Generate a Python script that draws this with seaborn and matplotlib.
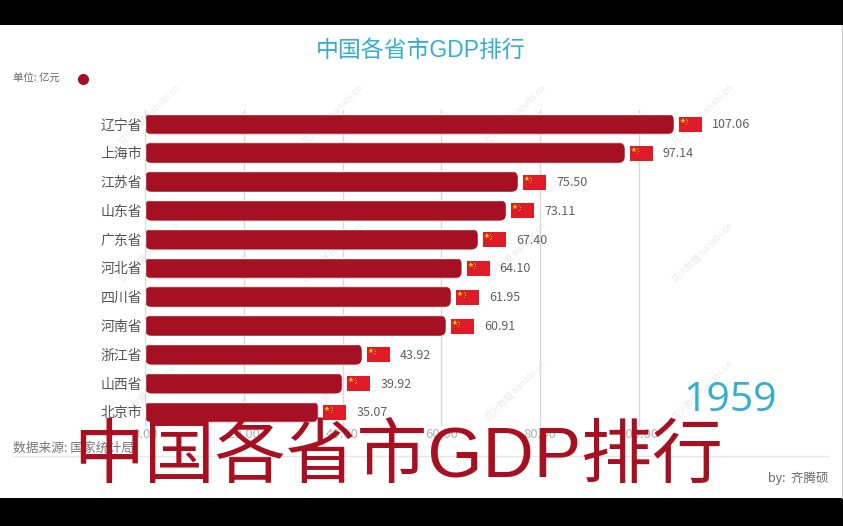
import matplotlib
matplotlib.use("Agg")
import matplotlib.pyplot as plt
from matplotlib.patches import FancyBboxPatch, Rectangle
import seaborn as sns

# DATA
provinces = ["辽宁省", "上海市", "江苏省", "山东省", "广东省", "河北省",
             "四川省", "河南省", "浙江省", "山西省", "北京市"]
gdp = [107.06, 97.14, 75.50, 73.11, 67.40, 64.10, 61.95, 60.91, 43.92, 39.92, 35.07]
x_ticks = [0, 20, 40, 60, 80, 100]
x_tick_labels = ["0.00", "20.00", "40.00", "60.00", "80.00", "100.00"]
title = "中国各省市GDP排行"
year = "1959"

W, H = 843, 526
RED = "#A51122"
BLUE = "#35AECF"
LATIN_CJK = ["Liberation Sans", "Noto Sans CJK SC"]

sns.set_theme(style="white")
plt.rcParams["font.family"] = ["Noto Sans CJK SC", "DejaVu Sans"]

fig = plt.figure(figsize=(W / 100, H / 100), dpi=100, facecolor="white")

# fond en coordonnees pixel : bandes noires, cadre, filigrane
bg = fig.add_axes([0, 0, 1, 1], zorder=0)
bg.set_xlim(0, W)
bg.set_ylim(H, 0)
bg.axis("off")
bg.add_patch(Rectangle((0, 0), W, 25, color="black", lw=0))
bg.add_patch(Rectangle((0, 498), W, 28, color="black", lw=0))
bg.plot([842, 842], [25, 498], color="#c8c8c8", lw=1)
bg.plot([13, 828], [456, 456], color="#e6e6e6", lw=1)
for tip_y in [87, 225, 363]:
    for tip_x in [177, 360, 543, 730]:
        bg.text(tip_x - 27, tip_y + 28, "花火数据 hanabi.cn", rotation=45, fontsize=6.5,
                color="#e9e9e9", ha="center", va="center", rotation_mode="anchor")

# barres
ax = fig.add_axes([145 / W, 1 - 426.4 / H, 655 / W, 316.8 / H], zorder=1)
ax.patch.set_alpha(0)
sns.barplot(x=gdp, y=provinces, orient="y", color=RED, saturation=1, width=0.72, ax=ax)
ax.set_xlim(0, 655 / 4.94)
ax.set_ylim(10.5, -0.5)
ax.set_xticks(x_ticks, x_tick_labels, color="#b0b0b0", fontsize=9.5)
ax.tick_params(axis="x", length=0, pad=1)
ax.tick_params(axis="y", length=0, pad=2, labelsize=10, labelcolor="#555555")
ax.grid(axis="x", color="#d9d9d9", lw=1)
ax.set_axisbelow(True)
sns.despine(ax=ax, left=True, bottom=True)

# calque du dessus, meme repere pixel que le fond
top = fig.add_axes([0, 0, 1, 1], zorder=2)
top.set_xlim(0, W)
top.set_ylim(H, 0)
top.axis("off")

fig.canvas.draw()
for bar, value in zip(ax.patches, gdp):
    (x0, y0), (x1, y1) = ax.transData.transform(
        [(bar.get_x(), bar.get_y()), (bar.get_x() + bar.get_width(), bar.get_y() + bar.get_height())])
    y_top, y_bot = H - max(y0, y1), H - min(y0, y1)
    y_mid = (y_top + y_bot) / 2

    # coins arrondis : on clippe la barre de seaborn
    r = 7
    clip = FancyBboxPatch((x0 + r, y_top + r), x1 - x0 - 2 * r, y_bot - y_top - 2 * r,
                          boxstyle=f"round,pad={r},rounding_size={r}", transform=top.transData)
    bar.set_clip_path(clip)

    # drapeau + valeur
    fx = x1 + 5
    top.add_patch(Rectangle((fx, y_mid - 7), 23, 15, color="#DE1B26", lw=0))
    top.plot(fx + 4, y_mid - 3, marker="*", ms=4, color="#F2C80F", mew=0)
    for dx, dy in [(7.5, -5), (8.5, -3.5), (8.5, -1.5), (7.5, 0)]:
        top.plot(fx + dx, y_mid + dy, marker="o", ms=0.7, color="#F2C80F", mew=0)
    top.text(fx + 33, y_mid + 1, f"{value:.2f}", fontsize=9, color="#606060", va="center", ha="left")

# textes
top.text(421, 50, title, fontsize=16.5, color=BLUE, family=LATIN_CJK, ha="center", va="center")
top.text(13, 79, "单位: 亿元", fontsize=7.5, color="#666666", ha="left", va="center")
top.plot(83, 79, marker="o", ms=8, color=RED, mew=0)
top.text(13, 448, "数据来源: 国家统计局", fontsize=9.2, color="#777777", ha="left", va="center")
top.text(829, 478, "by:  齐腾硕", fontsize=9, color="#666666", ha="right", va="center")
top.text(777, 401, year, fontsize=29.5, color=BLUE, family="Open Sans", ha="right", va="center")
top.text(73, 459, title, fontsize=51, color="#A80F20", family=LATIN_CJK, ha="left", va="center")

fig.savefig("out.png", dpi=100)
plt.close(fig)
